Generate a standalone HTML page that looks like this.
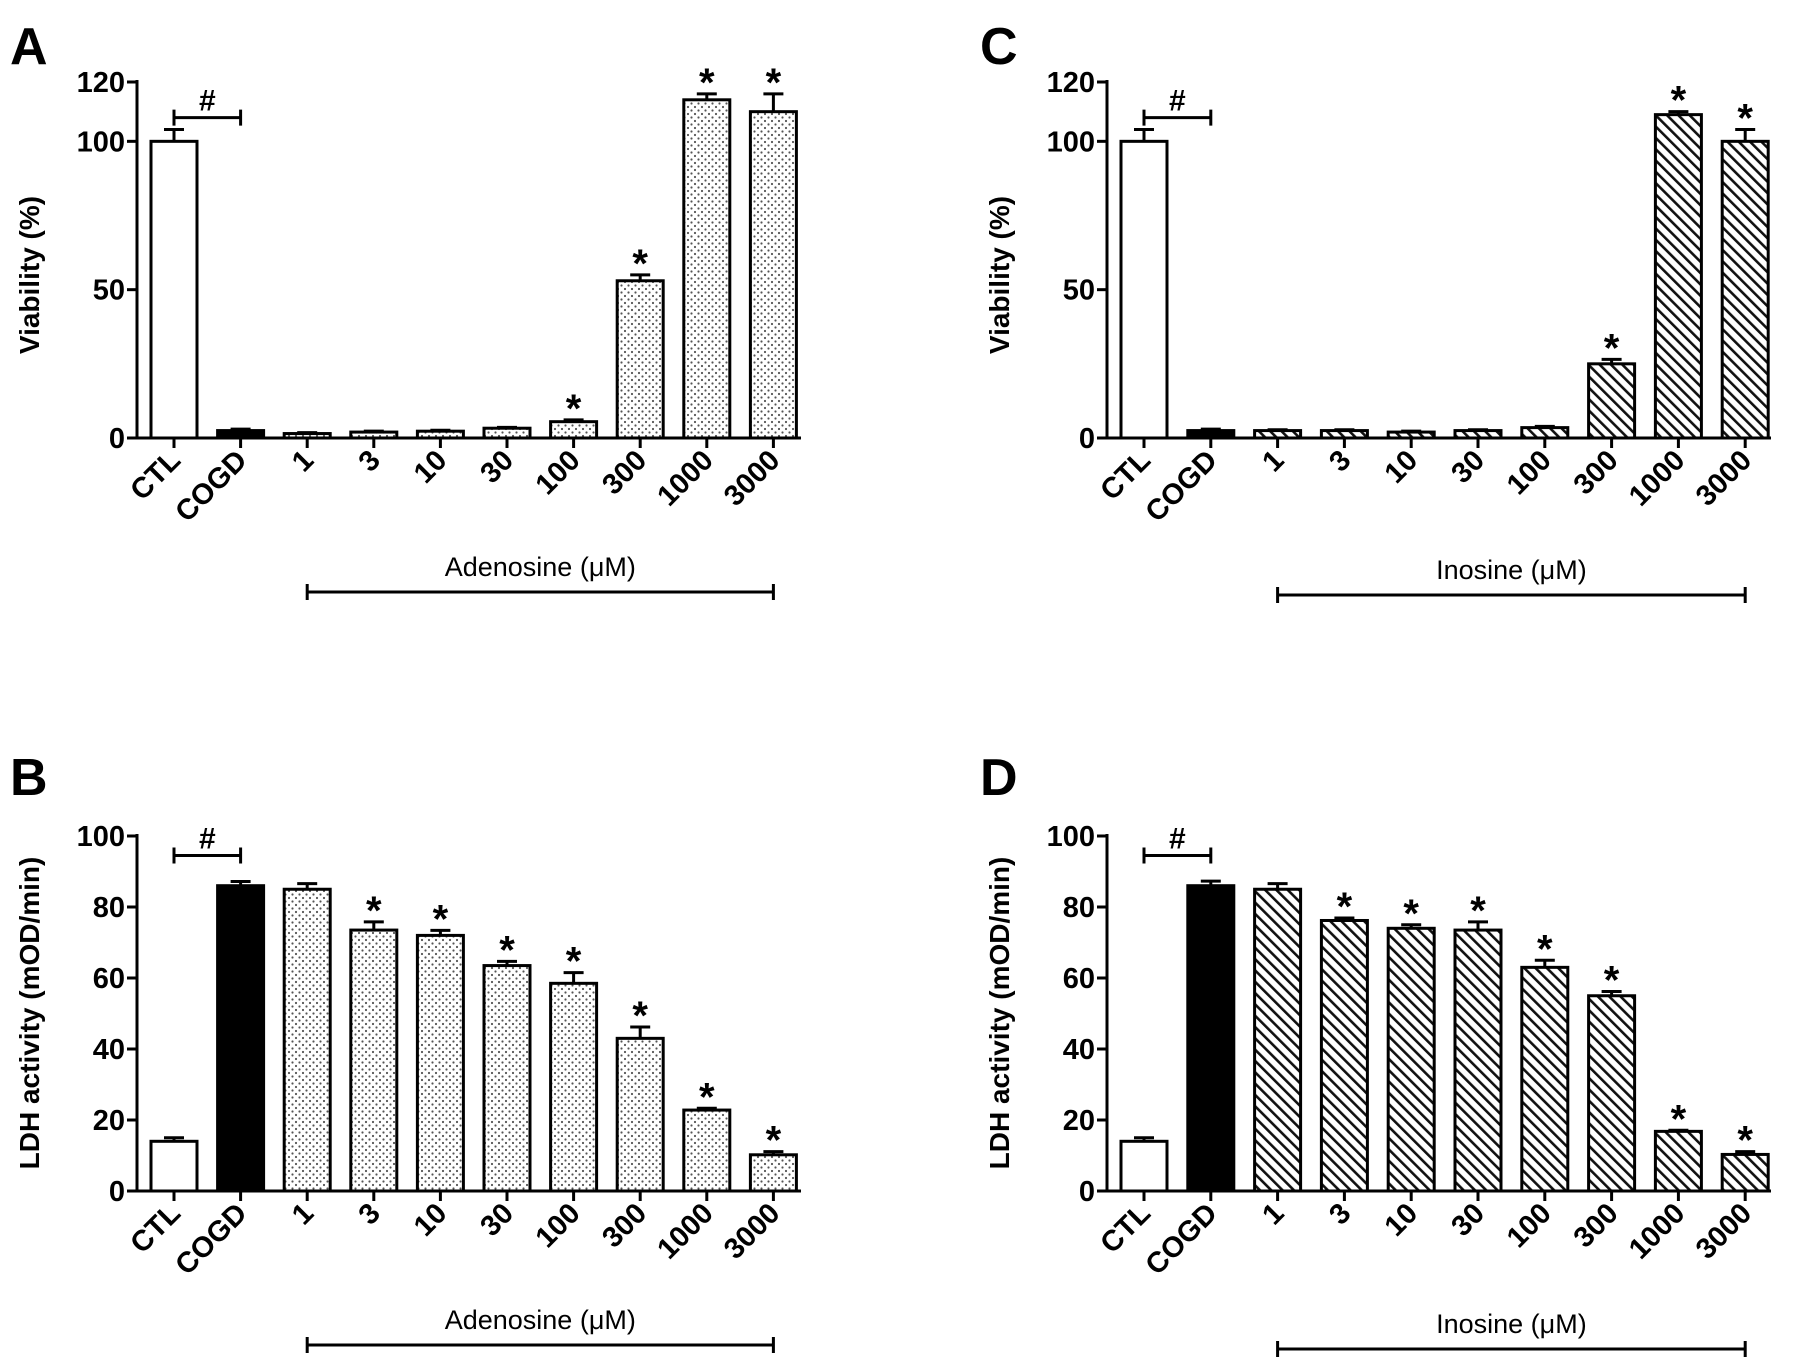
<!DOCTYPE html>
<html><head><meta charset="utf-8">
<style>
html,body{margin:0;padding:0;background:#fff;}
svg{display:block;}
text{font-family:"Liberation Sans",Arial,sans-serif;}
</style></head>
<body>
<svg id="chart" width="1795" height="1365" viewBox="0 0 1795 1365" xmlns="http://www.w3.org/2000/svg">
<defs>
<pattern id="dots" width="7" height="7" patternUnits="userSpaceOnUse">
<rect width="7" height="7" fill="#fff"/>
<circle cx="2" cy="2" r="1.1" fill="#555"/>
<circle cx="5.5" cy="5.5" r="1.1" fill="#555"/>
</pattern>
<pattern id="hatch" width="8" height="8" patternUnits="userSpaceOnUse" patternTransform="rotate(-45)">
<rect width="8" height="8" fill="#fff"/>
<rect x="0" y="0" width="2.6" height="8" fill="#111"/>
</pattern>
</defs>
</svg>
<script>
const categories = ["CTL","COGD","1","3","10","30","100","300","1000","3000"];
const viabAdenosine = [100,2.5,1.5,2,2.3,3.3,5.5,53,114,110];
const viabAdenosineErr = [4,0.5,0.3,0.3,0.3,0.3,0.6,2,2,6];
const viabAdenosineSig = [0,0,0,0,0,0,1,1,1,1];
const ldhAdenosine = [14,86,85,73.5,72,63.5,58.5,43,22.8,10.2];
const ldhAdenosineErr = [1,1.2,1.6,2.3,1.4,1.2,3,3.2,0.5,0.9];
const ldhAdenosineSig = [0,0,0,1,1,1,1,1,1,1];
const viabInosine = [100,2.5,2.5,2.5,2,2.5,3.5,25,109,100];
const viabInosineErr = [4,0.5,0.3,0.3,0.3,0.3,0.4,1.5,1,4];
const viabInosineSig = [0,0,0,0,0,0,0,1,1,1];
const ldhInosine = [14,86,85,76.2,74,73.5,63,55,16.8,10.3];
const ldhInosineErr = [1,1.3,1.6,0.7,1,2.3,2,1.2,0.3,0.8];
const ldhInosineSig = [0,0,0,1,1,1,1,1,1,1];
const viabTicks = [0,50,100,120];
const ldhTicks = [0,20,40,60,80,100];

const svg = document.getElementById('chart');
const NS = 'http://www.w3.org/2000/svg';
function mk(tag, attrs, parent){
  const e = document.createElementNS(NS, tag);
  for (const k in attrs) e.setAttribute(k, attrs[k]);
  (parent||svg).appendChild(e);
  return e;
}

function panel(p){
  const g = mk('g', {});
  
  
  const yS = v => p.y0 - (v / p.ymax) * (p.y0 - p.ytop);
  const xS = i => p.ax + p.first + i * p.step;
  const bw = 46;
  const L = mk('text', {x:p.ax-127, y:p.letterY, 'font-size':52, 'font-weight':'bold'}, g);
  L.textContent = p.letter;
  
  
  p.vals.forEach((v,i)=>{
    const fill = i===0 ? '#fff' : (i===1 ? '#000' : p.fill);
    const top = yS(v);
    const et = yS(v + p.err[i]);
    const eb = mk('path', {d:`M${xS(i)} ${top} V${et} M${xS(i)-10} ${et} H${xS(i)+10}`, stroke:'#000', 'stroke-width':3, fill:'none'}, g);
    
    
    const r = mk('rect', {x:xS(i)-bw/2, y:top, width:bw, height:Math.max(p.y0-top,0.5), fill:fill, stroke:'#000', 'stroke-width':3}, g);
    
    
    if (p.sig[i]) {
      const s = mk('text', {x:xS(i), y:et+2, 'font-size':40, 'font-weight':'bold', 'text-anchor':'middle'}, g);
      s.textContent = '*';
      
      
    }
    mk('line', {x1:xS(i), x2:xS(i), y1:p.y0, y2:p.y0+10, stroke:'#000', 'stroke-width':3}, g);
    const t = mk('text', {x:0, y:0, 'font-size':29, 'font-weight':'bold', 'text-anchor':'end',
      transform:`translate(${xS(i)+8},${p.y0+24}) rotate(-45)`}, g);
    t.textContent = categories[i];
    
    
  });
  const ya = mk('line', {x1:p.ax, x2:p.ax, y1:p.ytop-2, y2:p.y0+1.5, stroke:'#000', 'stroke-width':3}, g);
  
  
  const xa = mk('line', {x1:p.ax-10, x2:p.xend, y1:p.y0, y2:p.y0, stroke:'#000', 'stroke-width':3}, g);
  
  
  p.ticks.forEach(tv=>{
    mk('line', {x1:p.ax-10, x2:p.ax, y1:yS(tv), y2:yS(tv), stroke:'#000', 'stroke-width':3}, g);
    const t = mk('text', {x:p.ax-12, y:yS(tv)+10, 'font-size':29, 'font-weight':'bold', 'text-anchor':'end'}, g);
    t.textContent = tv;
    
    
  });
  const yt = mk('text', {x:0, y:0, 'font-size':28, 'font-weight':'bold', 'text-anchor':'middle',
    transform:`translate(${p.ax-98},${p.titleY}) rotate(-90)`}, g);
  yt.textContent = p.ytitle;
  
  
  const hy = yS(p.hashV);
  const hb = mk('path', {d:`M${xS(0)} ${hy-8} V${hy+8} M${xS(0)} ${hy} H${xS(1)} M${xS(1)} ${hy-8} V${hy+8}`, stroke:'#000', 'stroke-width':3, fill:'none'}, g);
  
  
  const h = mk('text', {x:(xS(0)+xS(1))/2, y:hy-7, 'font-size':30, 'font-weight':'bold', 'text-anchor':'middle'}, g);
  h.textContent = '#';
  
  
  const tb = mk('path', {d:`M${xS(2)} ${p.brY-8} V${p.brY+8} M${xS(2)} ${p.brY} H${xS(9)} M${xS(9)} ${p.brY-8} V${p.brY+8}`, stroke:'#000', 'stroke-width':3, fill:'none'}, g);
  
  
  const tl = mk('text', {x:(xS(2)+xS(9))/2, y:p.brY-16, 'font-size':27, 'text-anchor':'middle'}, g);
  tl.textContent = p.treat + ' (\u03BCM)';
  
  
}

panel({name:'panel-a', letter:'A', letterY:64, ax:137, first:37, step:66.6, xend:801, y0:438, ytop:82, ymax:120,
  vals:viabAdenosine, err:viabAdenosineErr, sig:viabAdenosineSig, fill:'url(#dots)', ticks:viabTicks,
  ytitle:'Viability  (%)', titleY:275, hashV:108, brY:592, treat:'Adenosine'});
panel({name:'panel-b', letter:'B', letterY:795, ax:137, first:37, step:66.6, xend:801, y0:1191, ytop:836, ymax:100,
  vals:ldhAdenosine, err:ldhAdenosineErr, sig:ldhAdenosineSig, fill:'url(#dots)', ticks:ldhTicks,
  ytitle:'LDH activity  (mOD/min)', titleY:1013, hashV:94.5, brY:1345, treat:'Adenosine'});
panel({name:'panel-c', letter:'C', letterY:64, ax:1107, first:37, step:66.8, xend:1771, y0:438, ytop:82, ymax:120,
  vals:viabInosine, err:viabInosineErr, sig:viabInosineSig, fill:'url(#hatch)', ticks:viabTicks,
  ytitle:'Viability  (%)', titleY:275, hashV:108, brY:595, treat:'Inosine'});
panel({name:'panel-d', letter:'D', letterY:795, ax:1107, first:37, step:66.8, xend:1771, y0:1191, ytop:836, ymax:100,
  vals:ldhInosine, err:ldhInosineErr, sig:ldhInosineSig, fill:'url(#hatch)', ticks:ldhTicks,
  ytitle:'LDH activity (mOD/min)', titleY:1013, hashV:94.5, brY:1349, treat:'Inosine'});
</script>
</body></html>
